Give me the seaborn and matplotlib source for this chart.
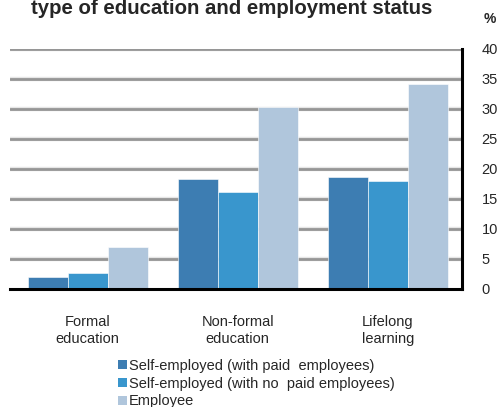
import matplotlib
matplotlib.use("Agg")
import matplotlib.pyplot as plt
import seaborn as sns
import pandas as pd

categories = ["Formal\neducation", "Non-formal\neducation", "Lifelong\nlearning"]
series = ["Self-employed (with paid  employees)",
          "Self-employed (with no  paid employees)",
          "Employee"]
paid_emp = [2.0, 18.3, 18.7]
no_paid_emp = [2.6, 16.1, 18.0]
employee = [7.0, 30.3, 34.1]
colors = ["#3d7db2", "#3996cd", "#b0c6dc"]
yticks = [0, 5, 10, 15, 20, 25, 30, 35, 40]

rows = []
for s, vals in zip(series, [paid_emp, no_paid_emp, employee]):
    for c, v in zip(categories, vals):
        rows.append({"cat": c, "series": s, "val": v})
df = pd.DataFrame(rows)

sns.set_style("white")
plt.rcParams["font.family"] = ["Liberation Sans", "DejaVu Sans"]

fig = plt.figure(figsize=(5.01, 4.07), dpi=100)
ax = fig.add_axes([10/501, 1-289/407, 452/501, 240/407])

sns.barplot(data=df, x="cat", y="val", hue="series", palette=colors,
            width=0.8, saturation=1, ax=ax, legend=False,
            edgecolor="white", linewidth=0.4, zorder=3)

ax.set_ylim(0, 40)
ax.set_xlim(-0.517, 2.493)
ax.set_yticks(yticks)
ax.yaxis.tick_right()
ax.tick_params(axis="y", length=0, pad=14, labelsize=10.5)
ax.tick_params(axis="x", length=0, pad=19, labelsize=10.5)
ax.set_xlabel("")
ax.set_ylabel("")
for y in yticks[1:]:
    ax.axhline(y, color="#e6e6e6", lw=3.2, zorder=1)
    ax.axhline(y, color="#969696", lw=2.0, zorder=1.5)
for side in ["top", "left"]:
    ax.spines[side].set_visible(False)
for side in ["bottom", "right"]:
    ax.spines[side].set_visible(True)
    ax.spines[side].set_color("black")
    ax.spines[side].set_linewidth(2.2)
    ax.spines[side].set_zorder(5)

fig.text(232/501, 1-14/407, "type of education and employment status",
         ha="center", va="baseline", fontsize=14.7, fontweight="bold")
fig.text(484/501, 1-23/407, "%", ha="left", va="baseline", fontsize=10,
         fontweight="bold")

from matplotlib.patches import Patch
handles = [Patch(facecolor=c, edgecolor="none") for c in colors]
fig.legend(handles, series, loc="upper left", bbox_to_anchor=(118/501, 1-359/407),
           frameon=False, fontsize=10.5, handlelength=0.6, handleheight=0.6,
           handletextpad=0.15, labelspacing=0.25, borderpad=0, borderaxespad=0)

fig.savefig("out.png", dpi=100)
